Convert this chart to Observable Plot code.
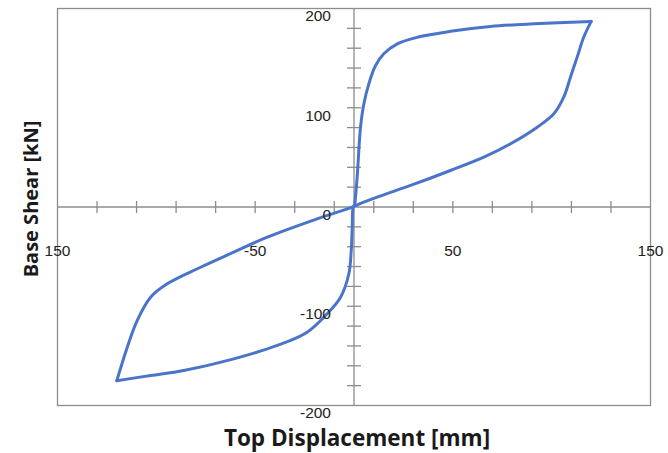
<!DOCTYPE html>
<html>
<head>
<meta charset="utf-8">
<script src="https://cdn.jsdelivr.net/npm/d3@7"></script>
<script src="https://cdn.jsdelivr.net/npm/@observablehq/plot@0.6"></script>
<style>
  html, body { margin: 0; padding: 0; background: #fff; }
  #chart svg { display: block; }
</style>
</head>
<body>
<div id="chart"></div>
<script>
// Hysteresis loop: top displacement (mm) vs base shear (kN), split into
// loading, unloading and reloading branches so the reversal points stay sharp.
const loadingDisp = [0.4, 1.6, 3.3, 5.0, 7.5, 10.9, 15.1, 21.9, 32, 48.8, 69, 91, 120];
const loadingShear = [2, 30, 80.4, 104, 124, 142.6, 154.4, 164.4, 171, 177, 181.9, 184.6, 187];

const unloadingDisp = [120, 116.2, 112.9, 109.5, 106.1, 101.1, 92.7, 79.2, 65.7, 48.8, 28.6, 11.7, 0.8,
  -0.9, -18.6, -43.9, -60.8, -77.6, -94.5, -102.9, -109.7, -114.7, -120];
const unloadingShear = [187, 171, 151, 130.8, 110.6, 93.9, 80.4, 63.7, 50.2, 36.8, 21.7, 9.9, 1.5,
  -0.2, -11.9, -30.4, -45.5, -60.7, -77.4, -90.9, -114.4, -141.3, -175];

const reloadingDisp = [-120, -102.9, -86.1, -60.8, -38.8, -23.7, -13.6, -6.8, -2.6, -1.4, -0.9, -0.4, 0.4];
const reloadingShear = [-175, -169.8, -164.7, -153, -139.5, -126.1, -107.6, -90.9, -67.3, -43.8, -20.4, -0.2, 2];

// Axis ticks and labels
const xMinorTicks = [-130, -110, -90, -70, -50, -30, -10, 10, 30, 50, 70, 90, 110, 130];
const xLabelValues = [-150, -50, 50, 150];
const xLabelTexts = ["150", "-50", "50", "150"];
const yMinorTicks = [-180, -160, -140, -120, -100, -80, -60, -40, -20, 20, 40, 60, 80, 100, 120, 140, 160, 180];
const yLabelValues = [200, 100, 0, -100, -200];
const yLabelTexts = ["200", "100", "0", "-100", "-200"];

const xTitle = "Top Displacement [mm]";
const yTitle = "Base Shear [kN]";

const branch = (name, ds, vs) => ds.map((d, i) => ({branch: name, d, v: vs[i]}));
const points = [
  ...branch("loading", loadingDisp, loadingShear),
  ...branch("unloading", unloadingDisp, unloadingShear),
  ...branch("reloading", reloadingDisp, reloadingShear)
];
const xLabels = xLabelValues.map((x, i) => ({x, t: xLabelTexts[i]}));
const yLabels = yLabelValues.map((y, i) => ({y, t: yLabelTexts[i]}));

// Cross-style tick glyphs (fixed pixel half-length)
const vTick = {draw(ctx) { ctx.moveTo(0, -6); ctx.lineTo(0, 6); }};
const hTick = {draw(ctx) { ctx.moveTo(-7, 0); ctx.lineTo(7, 0); }};

const axisColor = "#8c8c8c";
const labelFont = "'Liberation Sans', Arial, sans-serif";
const titleFont = "'Open Sans', 'Noto Sans', sans-serif";

const chart = Plot.plot({
  width: 668,
  height: 453,
  marginLeft: 57,
  marginRight: 18,
  marginTop: 8,
  marginBottom: 48,
  x: {domain: [-150, 150], axis: null},
  y: {domain: [-200, 200], axis: null},
  style: {background: "#fff"},
  marks: [
    Plot.frame({stroke: axisColor, strokeWidth: 1.3}),
    Plot.ruleY([0], {stroke: axisColor, strokeWidth: 1.3}),
    Plot.ruleX([0], {stroke: axisColor, strokeWidth: 1.3}),
    Plot.dot(xMinorTicks, {x: d => d, y: 0, symbol: vTick, stroke: axisColor, strokeWidth: 1.3, fill: "none"}),
    Plot.dot(yMinorTicks, {x: 0, y: d => d, symbol: hTick, stroke: axisColor, strokeWidth: 1.3, fill: "none"}),
    Plot.line(points, {x: "d", y: "v", z: "branch", stroke: "#4a74c9", strokeWidth: 3, curve: "catmull-rom", strokeLinejoin: "round", strokeLinecap: "round"}),
    Plot.text(xLabels, {x: "x", y: 0, text: "t", dy: 44, fontSize: 15.5, fill: "#222", fontFamily: labelFont}),
    Plot.text(yLabels, {x: 0, y: "y", text: "t", dx: -23, dy: 8, textAnchor: "end", fontSize: 15.5, fill: "#222", fontFamily: labelFont}),
    Plot.text([xTitle], {frameAnchor: "bottom", dx: 3, dy: 40, text: d => d, fontSize: 22.5, fontWeight: "bold", fill: "#1a1a1a", fontFamily: titleFont}),
    Plot.text([yTitle], {frameAnchor: "left", textAnchor: "middle", dx: -26, dy: -8, rotate: -90, text: d => d, fontSize: 20, fontWeight: "bold", fill: "#1a1a1a", fontFamily: titleFont})
  ]
});

document.getElementById("chart").appendChild(chart);
</script>
</body>
</html>
